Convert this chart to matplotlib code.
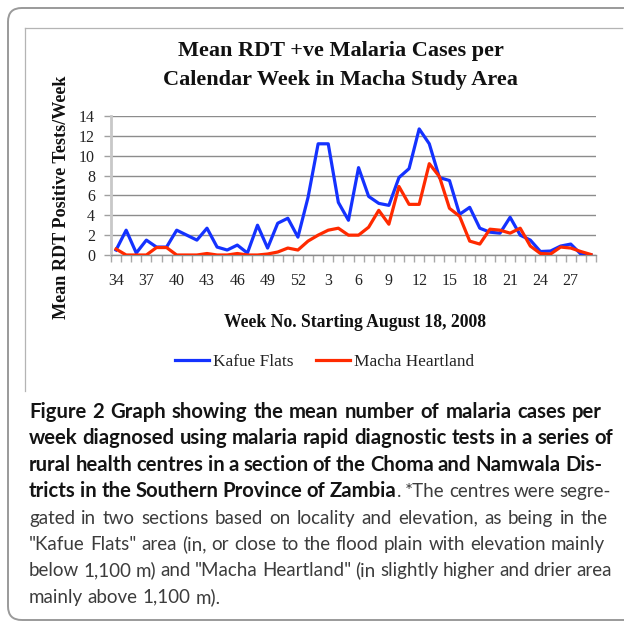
import numpy as np
import matplotlib
matplotlib.use("Agg")
import matplotlib.pyplot as plt
from matplotlib.patches import FancyBboxPatch
from matplotlib.lines import Line2D

# ---------------- data ----------------
weeks = list(range(34, 53)) + list(range(1, 30))
kafue_flats = [0.5, 2.5, 0.2, 1.5, 0.8, 0.8, 2.5, 2.0, 1.5, 2.7,
               0.8, 0.5, 1.0, 0.2, 3.0, 0.7, 3.2, 3.7, 1.8,
               5.8, 11.2, 11.2, 5.3, 3.5, 8.8, 5.9, 5.2, 5.0, 7.8,
               8.7, 12.7, 11.2, 7.8, 7.5, 4.1, 4.8, 2.7, 2.3, 2.2,
               3.8, 2.0, 1.5, 0.35, 0.4, 0.9, 1.1, 0.1, 0.0]
macha_heartland = [0.6, 0.0, 0.0, 0.0, 0.75, 0.75, 0.0, 0.0, 0.0, 0.15,
                   0.0, 0.0, 0.15, 0.0, 0.0, 0.1, 0.3, 0.7, 0.5,
                   1.4, 2.0, 2.5, 2.7, 2.0, 2.0, 2.8, 4.5, 3.1, 6.9,
                   5.1, 5.1, 9.2, 7.9, 4.7, 3.9, 1.4, 1.1, 2.6, 2.5,
                   2.2, 2.7, 0.9, 0.15, 0.1, 0.8, 0.7, 0.35, 0.05]
series_names = ["Kafue Flats", "Macha Heartland"]
y_ticks = [0, 2, 4, 6, 8, 10, 12, 14]
title_lines = ["Mean RDT +ve Malaria Cases per", "Calendar Week in Macha Study Area"]
y_label = "Mean RDT Positive Tests/Week"
x_label = "Week No. Starting August 18, 2008"
caption_lines = [
    [("Figure 2 Graph showing the mean number of malaria cases per", True)],
    [("week diagnosed using malaria rapid diagnostic tests in a series of", True)],
    [("rural health centres in a section of the Choma and Namwala Dis-", True)],
    [("tricts in the Southern Province of Zambia", True), (". *The centres were segre-", False)],
    [("gated in two sections based on locality and elevation, as being in the", False)],
    [("\"Kafue Flats\" area (in, or close to the flood plain with elevation mainly", False)],
    [("below 1,100 m) and \"Macha Heartland\" (in slightly higher and drier area", False)],
    [("mainly above 1,100 m).", False)],
]
caption_right = [602, 613, 602, 611, 608, 605, 612, None]

# ---------------- figure ----------------
plt.rcParams["font.family"] = ["Liberation Serif", "DejaVu Serif"]
W, H = 624, 623
fig = plt.figure(figsize=(W / 100, H / 100), dpi=100)
fig.patch.set_facecolor("white")
renderer = fig.canvas.get_renderer()


def fx(px):
    return px / W


def fy(py):
    return 1 - py / H


def fit_width(t, target, vertical=False):
    bb = t.get_window_extent(renderer)
    cur = bb.height if vertical else bb.width
    t.set_fontsize(t.get_fontsize() * target / cur)


# outer rounded box and inner chart frame
box = FancyBboxPatch((fx(8), fy(620)), fx(700) - fx(8), fy(8) - fy(620),
                     boxstyle="round,pad=0,rounding_size=0.022",
                     transform=fig.transFigure, facecolor="none",
                     edgecolor="#9a9a9a", lw=1.4, clip_on=False)
fig.patches.append(box)
fig.add_artist(Line2D([fx(25), fx(25)], [fy(28), fy(391)], transform=fig.transFigure,
                      color="#b4b4b4", lw=0.9))
fig.add_artist(Line2D([fx(25), fx(622)], [fy(28), fy(28)], transform=fig.transFigure,
                      color="#b4b4b4", lw=0.9))

# axes
ax = fig.add_axes([fx(111), fy(255), fx(596) - fx(111), fy(116) - fy(255)])
x = np.arange(len(weeks))
blue = "#1432ff"
red = "#ff2a00"
l1, = ax.plot(x, kafue_flats, color=blue, lw=2.3, label=series_names[0], zorder=3)
l2, = ax.plot(x, macha_heartland, color=red, lw=2.3, label=series_names[1], zorder=4)
ax.set_xlim(-0.5, len(weeks) - 0.5)
ax.set_ylim(0, 14)
ax.set_yticks(y_ticks)
ax.yaxis.grid(True, color="#8c8c8c", lw=1.0)
ax.set_axisbelow(True)
for s in ("top", "right"):
    ax.spines[s].set_visible(False)
ax.spines["left"].set_color("#c8c8c8")
ax.spines["left"].set_linewidth(2.0)
ax.spines["bottom"].set_color("#8c8c8c")
ax.spines["bottom"].set_linewidth(1.0)

ax.set_xticks(np.arange(-0.5, len(weeks), 1.0))
ax.set_xticklabels([])
ax.set_xticks(x[::3], minor=True)
ax.set_xticklabels([str(w) for w in weeks[::3]], minor=True)
ax.tick_params(axis="x", which="major", length=5, color="#a8a8a8", width=1, direction="out")
ax.tick_params(axis="x", which="minor", length=0, pad=13, labelsize=11.5, labelcolor="#222222")
ax.tick_params(axis="y", length=5, color="#a0a0a0", width=1, pad=6.5, labelsize=11.5,
               labelcolor="#222222")

# titles and labels
t1 = fig.text(fx(341), fy(56), title_lines[0], ha="center", va="baseline",
              fontweight="bold", fontsize=16, color="#111111")
t2 = fig.text(fx(340), fy(85), title_lines[1], ha="center", va="baseline",
              fontweight="bold", fontsize=16, color="#111111")
fit_width(t2, 356)
t1.set_fontsize(t2.get_fontsize())

yl = fig.text(fx(61), fy(197), y_label, rotation=90, ha="center", va="center",
              fontweight="bold", fontsize=12, color="#111111")
fit_width(yl, 243, vertical=True)

xl = fig.text(fx(355), fy(327), x_label, ha="center", va="baseline",
              fontweight="bold", fontsize=12, color="#111111")
fit_width(xl, 261)

# legend
tmp = fig.text(0, 0, series_names[1], fontsize=12)
fit_width(tmp, 119)
lfs = tmp.get_fontsize()
tmp.remove()
lpx = lfs * 100 / 72
fig.legend(handles=[l1, l2], loc="center", bbox_to_anchor=(fx(324.5), fy(362)), ncol=2,
           frameon=False, prop={"family": "Liberation Serif", "size": lfs},
           handlelength=34 / lpx, handletextpad=4 / lpx, columnspacing=22 / lpx,
           labelcolor="#222222")

# caption (justified)
cap_font = ["Lato", "DejaVu Sans"]
bold_col = "#141414"
reg_col = "#3c3c3c"


def words_of(runs):
    out = []
    for s, bold in runs:
        parts = s.split(" ")
        for pi, p in enumerate(parts):
            if p == "":
                continue
            gap = len(out) > 0 and (pi > 0 or s.startswith(" "))
            out.append((p, bold, gap))
    return out


def mk(txt, bold, fs):
    return fig.text(0, 0, txt, fontsize=fs[bold], family=cap_font,
                    fontweight="bold" if bold else "normal",
                    color=bold_col if bold else reg_col, va="baseline", ha="left")


def width_px(txt, bold, fs):
    t = mk(txt, bold, fs)
    w = t.get_window_extent(renderer).width
    t.remove()
    return w


def natural(words, fs):
    sp = {b: width_px("x x", b, fs) - width_px("xx", b, fs) for b in (True, False)}
    tot = 0
    for w, b, g in words:
        tot += width_px(w, b, fs)
        if g:
            tot += sp[b]
    return tot, sp


x0 = 29
base = {True: 12.0, False: 12.0}
all_words = [words_of(r) for r in caption_lines]
ratios = {True: [], False: []}
for wl, right in zip(all_words, caption_right):
    if right is None:
        continue
    kinds = set(w[1] for w in wl)
    if len(kinds) != 1:
        continue
    nat, _ = natural(wl, base)
    ratios[kinds.pop()].append((right - x0) / nat)
cfs = {b: 12.0 * float(np.median(ratios[b])) * 0.99 for b in (True, False)}

for i, (wl, right) in enumerate(zip(all_words, caption_right)):
    yb = 418 + 26.4 * i
    nat, sp = natural(wl, cfs)
    ngaps = sum(1 for w in wl if w[2])
    extra = 0.0
    if right is not None and ngaps > 0:
        extra = (right - x0 - nat) / ngaps
    pos = x0
    for w, b, g in wl:
        if g:
            pos += sp[b] + extra
        t = mk(w, b, cfs)
        t.set_position((fx(pos), fy(yb)))
        pos += t.get_window_extent(renderer).width

fig.savefig("out.png", dpi=100, facecolor="white")
